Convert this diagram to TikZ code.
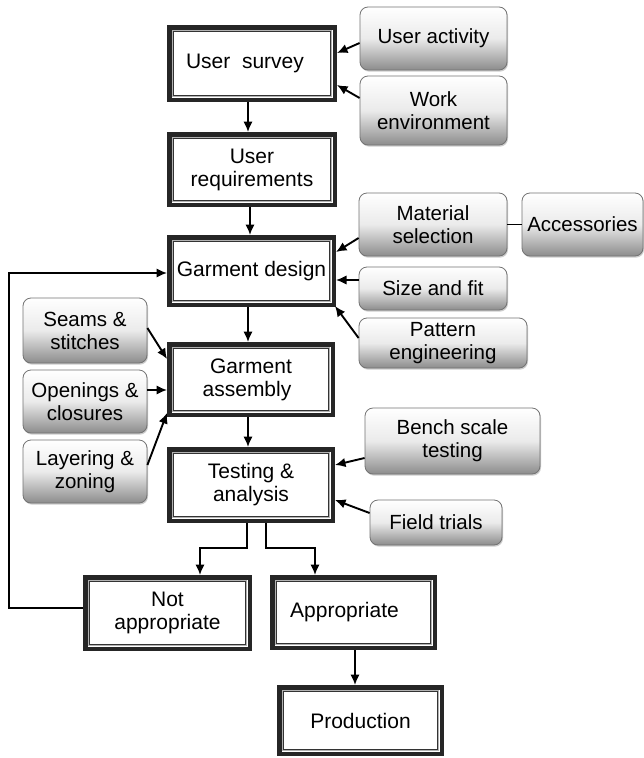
\documentclass[tikz,border=0pt]{standalone}
\usepackage{fontspec}
\setmainfont{Liberation Sans}
\usetikzlibrary{arrows.meta,shadows,calc}
\begin{document}
\begin{tikzpicture}[x=1pt,y=-1pt,
  mainbox/.style={draw=black!85, line width=4.5pt, fill=white, align=center,
    font=\fontsize{21}{23}\selectfont, inner sep=2pt},
  graybox/.style={draw=black!55, line width=0.8pt, rounded corners=8pt,
    top color=white, bottom color=black!45, middle color=black!8,
    align=center, font=\fontsize{20.5}{23}\selectfont, inner sep=1pt,
    drop shadow={shadow xshift=1pt, shadow yshift=-1.6pt, opacity=0.4}},
  arr/.style={line width=1.9pt, -{Latex[length=10.5pt,width=9.5pt]}},
  ln/.style={line width=1.9pt}
]
\useasboundingbox (0,0) rectangle (644,758);
\fill[white] (0,0) rectangle (644,758);

% main boxes
\node[mainbox, minimum width=165.5pt, minimum height=72.5pt] (survey) at (252,63.5) {User\ \ survey\hspace*{14pt}};
\node[mainbox, minimum width=165.5pt, minimum height=70.5pt] (req) at (252,169.5) {User\\requirements};
\node[mainbox, minimum width=164.5pt, minimum height=67.5pt] (design) at (251.5,271) {Garment design};
\node[mainbox, minimum width=163.5pt, minimum height=70.5pt] (assembly) at (251,379.5) {Garment\\assembly\hspace*{8pt}};
\node[mainbox, minimum width=163.5pt, minimum height=71.5pt] (testing) at (251,485) {Testing \&\\analysis};
\node[mainbox, minimum width=164.5pt, minimum height=71.5pt] (notapp) at (167.5,613) {Not\\appropriate};
\node[mainbox, minimum width=162.5pt, minimum height=70.5pt] (app) at (353.5,612.5) {\raisebox{4pt}{Appropriate}\hspace*{18pt}};
\node[mainbox, minimum width=162.5pt, minimum height=66.5pt] (prod) at (360.5,720.5) {Production};

\foreach \n in {survey,req,design,assembly,testing,notapp,app,prod} {
  \draw[black!30, line width=1.5pt] ([shift={(5.3pt,-5.3pt)}]\n.north west) rectangle ([shift={(-5.3pt,5.3pt)}]\n.south east);
  \draw[black!80, line width=0.9pt] ([shift={(6.9pt,-6.9pt)}]\n.north west) rectangle ([shift={(-6.9pt,6.9pt)}]\n.south east);
}

% gray boxes
\node[graybox, minimum width=147pt, minimum height=63pt] (act) at (433.5,38.5) {User activity};
\node[graybox, minimum width=147pt, minimum height=69pt] (work) at (433.5,110.5) {Work\\environment};
\node[graybox, minimum width=148pt, minimum height=63pt] (mat) at (433,224.5) {Material\\selection};
\node[graybox, minimum width=121pt, minimum height=63pt] (acc) at (582.5,224.5) {Accessories};
\node[graybox, minimum width=148pt, minimum height=43pt] (size) at (433,288.5) {Size and fit};
\node[graybox, minimum width=168pt, minimum height=50pt] (pat) at (443,343) {Pattern\\engineering};
\node[graybox, minimum width=124pt, minimum height=65pt] (seams) at (85,330.5) {Seams \&\\stitches};
\node[graybox, minimum width=124pt, minimum height=63pt] (open) at (85,401.5) {Openings \&\\closures};
\node[graybox, minimum width=124pt, minimum height=63pt] (layer) at (85,471.5) {Layering \&\\zoning};
\node[graybox, minimum width=175pt, minimum height=66pt] (bench) at (452.5,441) {Bench scale\\testing};
\node[graybox, minimum width=132pt, minimum height=45pt] (field) at (436,522.5) {Field trials};

% connectors to main boxes
\draw[arr] ([yshift=-4.5pt]act.west) -- ([yshift=10.5pt]survey.east);
\draw[arr] ([yshift=12.5pt]work.west) -- ([yshift=-21.5pt]survey.east);
\draw[arr] ([xshift=-4pt]survey.south) -- ([xshift=-4pt]req.north);
\draw[arr] ([xshift=-2pt]req.south) -- ([xshift=-1.5pt]design.north);
\draw[arr] ([yshift=-13.5pt]mat.west) -- ([yshift=19pt]design.east);
\draw[ln] (acc.west) -- (mat.east);
\coordinate (sz) at ([yshift=8.5pt]size.west);
\draw[arr] (sz) -- (sz -| design.east);
\draw[arr] ([yshift=5pt]pat.west) -- ([shift={(-1pt,1pt)}]design.south east);
\draw[arr] ([xshift=-3.5pt]design.south) -- ([xshift=-3pt]assembly.north);
\draw[arr] ([yshift=2.5pt]seams.east) -- ([yshift=20.5pt]assembly.west);
\coordinate (op) at ([yshift=11.5pt]open.east);
\draw[arr] (op) -- (op -| assembly.west);
\draw[arr] ([yshift=6.5pt]layer.east) -- ([yshift=4pt]assembly.south west);
\draw[arr] ([xshift=-3pt]assembly.south) -- ([xshift=-3pt]testing.north);
\draw[arr] ([yshift=-17pt]bench.west) -- ([yshift=20pt]testing.east);
\draw[arr] ([yshift=9.5pt]field.west) -- ([yshift=-15pt]testing.east);

% outcome branches
\coordinate (brl) at ([xshift=-4pt]testing.south);
\coordinate (brr) at ([xshift=15pt]testing.south);
\coordinate (tnl) at ([xshift=32.5pt]notapp.north);
\coordinate (tnr) at ([xshift=-38.5pt]app.north);
\draw[arr] (brl) -- (brl |- 0,548) -- (tnl |- 0,548) -- (tnl);
\draw[arr] (brr) -- (brr |- 0,548) -- (tnr |- 0,548) -- (tnr);

% feedback loop
\coordinate (lx) at (9,0);
\coordinate (ns) at ([yshift=5pt]notapp.west);
\coordinate (ds) at ([yshift=-2pt]design.west);
\draw[arr] (ns) -- (ns -| lx) -- (ds -| lx) -- (ds);

% to production
\coordinate (pt) at ([xshift=-5.5pt]prod.north);
\draw[arr] (pt |- app.south) -- (pt);
\end{tikzpicture}
\end{document}
